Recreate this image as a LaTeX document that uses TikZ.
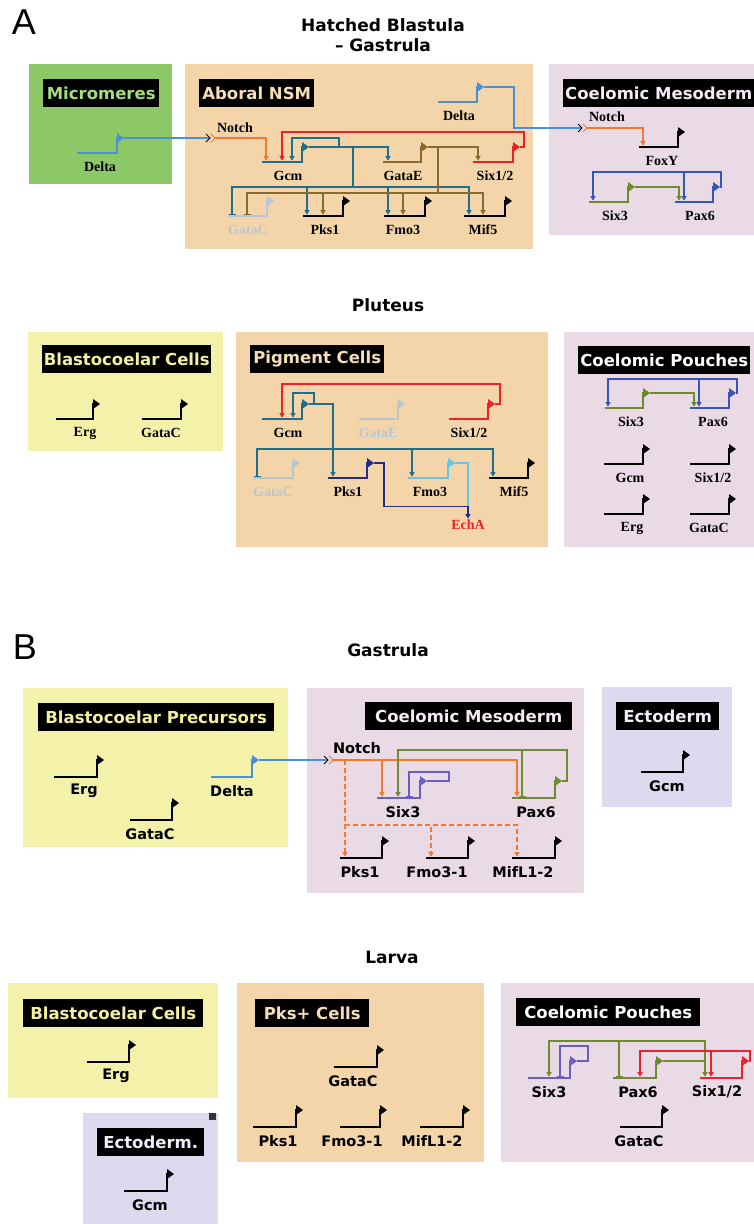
\documentclass[tikz,border=0pt]{standalone}
\usepackage{fontspec}
\setmainfont{Liberation Serif}
\setsansfont{DejaVu Sans}
\newfontfamily\panelfont{Liberation Sans}
\usetikzlibrary{arrows.meta}

\definecolor{greenbox}{HTML}{8CC866}
\definecolor{micgreen}{HTML}{A4DE7E}
\definecolor{tanbox}{HTML}{F4D5A9}
\definecolor{tantext}{HTML}{F6DEB6}
\definecolor{pinkbox}{HTML}{E9DAE6}
\definecolor{pinktext}{HTML}{F5ECF3}
\definecolor{yelbox}{HTML}{F3F1AA}
\definecolor{yeltext}{HTML}{F3F0A0}
\definecolor{lavbox}{HTML}{DCDAEE}
\definecolor{lavtext}{HTML}{EFEEF8}
\definecolor{tealc}{HTML}{1F6E8C}
\definecolor{brownc}{HTML}{8A6A2E}
\definecolor{redc}{HTML}{EC2228}
\definecolor{deltablue}{HTML}{4A90D4}
\definecolor{orangec}{HTML}{F27A30}
\definecolor{greyc}{HTML}{B8C6D4}
\definecolor{navyc}{HTML}{232E8C}
\definecolor{cyanc}{HTML}{5CC8EE}
\definecolor{olivec}{HTML}{6E8B30}
\definecolor{paxblue}{HTML}{3A55B8}
\definecolor{purplec}{HTML}{6A5EC4}

\tikzset{
  conn/.style={line width=1.1pt},
  link/.style={conn, -{Triangle[length=4.5pt,width=5pt]}, shorten >=1.3pt},
  block/.style={conn, -{Bar[width=7pt]}, shorten >=1.3pt},
  genebody/.style={line width=2.6pt},
  labA/.style={font=\fontsize{14}{15}\selectfont\bfseries, inner sep=0pt},
  labB/.style={font=\fontsize{14.5}{15}\selectfont\sffamily\bfseries, inner sep=0pt},
  genelab/.style={labA},
  tag/.style={fill=black, anchor=north west, inner sep=0pt, minimum height=28pt,
    font=\fontsize{16.5}{18}\selectfont\sffamily\bfseries},
  title/.style={font=\fontsize{17}{20}\selectfont\sffamily\bfseries, align=center},
  panel/.style={font=\panelfont\fontsize{36}{36}\selectfont},
  receptor/.pic={
    \draw[line width=1pt] (-7,-4) -- (-3,0) -- (-7,4);
    \draw[line width=1pt,orangec] (-2,-4) -- (2,0) -- (-2,4);
  }
}

% gene: name, left x, right x, y, colour, label, label colour, label x
\def\geneh{15}
\newcommand\gene[8]{%
  \coordinate (#1-l) at (#2,#4);
  \coordinate (#1-r) at (#3,#4);
  \coordinate (#1-t) at (#3+7,#4-\geneh);
  \draw[genebody,#5] (#1-l) -- (#1-r) -- ++(0,-\geneh) -- ++(2,0);
  \fill[#5] (#3,#4-\geneh-5) -- (#1-t) -- (#3,#4-\geneh+5) -- cycle;
  \node[genelab,text=#7] (#1-lab) at (#8,#4+14) {#6};
}

\begin{document}
\begin{tikzpicture}[x=1pt,y=-1pt]
    \useasboundingbox (0,0) rectangle (754,1224);

    % Panel A: hatched blastula - gastrula
    \node[panel] (panelA) at (24,22) {A};
    \node[title] (stageHB) at (383,35) {Hatched Blastula\\– Gastrula};
    \fill[greenbox] (29,64) rectangle (172,184);
    \fill[tanbox] (185,64) rectangle (533,249);
    \fill[pinkbox] (549,64) rectangle (754,235);
    \node[tag,minimum width=116pt,text=micgreen] (micTag) at (43,79) {Micromeres};
    \node[tag,minimum width=115pt,text=tantext] (nsmTag) at (199,79) {Aboral NSM};
    \node[tag,minimum width=191pt,text=pinktext] (cmATag) at (563,79) {Coelomic Mesoderm};

    \gene{dlMic}{77}{117}{153}{deltablue}{Delta}{black}{100}
    \gene{dlA}{438}{477}{102}{deltablue}{Delta}{black}{459}
    \gene{gcmA}{262}{302}{162}{tealc}{Gcm}{black}{288}
    \gene{gataeA}{383}{421}{162}{brownc}{GataE}{black}{403}
    \gene{sixA}{473}{513}{162}{redc}{Six1/2}{black}{495}
    \gene{gatacA}{228}{267}{216}{greyc}{GataC}{greyc}{248}
    \gene{pksA}{303}{343}{216}{black}{Pks1}{black}{325}
    \gene{fmoA}{384}{425}{216}{black}{Fmo3}{black}{403}
    \gene{mifA}{464}{505}{216}{black}{Mif5}{black}{483}
    \gene{foxy}{639}{678}{147}{black}{FoxY}{black}{662}
    \gene{sixthreeA}{589}{628}{202}{olivec}{Six3}{black}{615}
    \gene{paxA}{675}{713}{202}{paxblue}{Pax6}{black}{700}

    % Delta-Notch
    \coordinate (notchA) at (213,138);
    \coordinate (notchC) at (585,128);
    \draw[conn,deltablue] (dlMic-t) -- ([xshift=-3pt]notchA);
    \draw[conn,deltablue] (dlA-t) -- ++(30,0) |- ([xshift=-3pt]notchC);
    \pic at (notchA) {receptor};
    \pic at (notchC) {receptor};
    \node[labA] (notchAlab) at (235,128) {Notch};
    \node[labA] (notchClab) at (607,117) {Notch};
    \draw[link,orangec] ([xshift=2pt]notchA) -| ([xshift=4pt]gcmA-l);
    \draw[link,orangec] ([xshift=2pt]notchC) -| ([xshift=4pt]foxy-l);

    % Gcm
    \coordinate (gcmAbus) at (353,187);
    \draw[link,tealc] (gcmA-t) -- ++(30,0) -- ++(0,-9) -| ([xshift=30pt]gcmA-l);
    \draw[link,tealc] (gcmA-t) -| ([xshift=5pt]gataeA-l);
    \draw[conn,tealc] (gcmA-t) -| (gcmAbus);
    \draw[block,tealc] (gcmAbus) -| ([xshift=4pt]gatacA-l);
    \draw[link,tealc] (gcmAbus) -| ([xshift=4pt]pksA-l);
    \draw[link,tealc] (gcmAbus) -| ([xshift=4pt]fmoA-l);
    \draw[link,tealc] (gcmAbus) -| ([xshift=5pt]mifA-l);

    % GataE
    \coordinate (gataeAbus) at (438,193);
    \draw[link,brownc] (gataeA-t) -| ([xshift=5pt]sixA-l);
    \draw[conn,brownc] (gataeA-t) -| (gataeAbus);
    \draw[block,brownc] (gataeAbus) -| ([xshift=19pt]gatacA-l);
    \draw[link,brownc] (gataeAbus) -| ([xshift=20pt]pksA-l);
    \draw[link,brownc] (gataeAbus) -| ([xshift=19pt]fmoA-l);
    \draw[link,brownc] (gataeAbus) -| ([xshift=19pt]mifA-l);

    % Six1/2
    \draw[link,redc] (sixA-t) -- ++(4,0) |- ([xshift=20pt,yshift=30pt]gcmA-l) -- ([xshift=20pt]gcmA-l);

    % Six3 / Pax6
    \draw[link,olivec] (sixthreeA-t) -| ([xshift=4pt]paxA-l);
    \draw[link,paxblue] (paxA-t) -- ++(1,0) |- ([xshift=4pt,yshift=30pt]sixthreeA-l) -- ([xshift=4pt]sixthreeA-l);
    \draw[link,paxblue] ([xshift=9pt,yshift=30pt]paxA-l) -- ([xshift=9pt]paxA-l);

    % Pluteus
    \node[title] (stagePl) at (388,305) {Pluteus};
    \fill[yelbox] (28,332) rectangle (223,451);
    \fill[tanbox] (236,332) rectangle (548,547);
    \fill[pinkbox] (564,332) rectangle (754,547);
    \node[tag,minimum width=169pt,text=yeltext] (bcTag) at (42,345) {Blastocoelar Cells};
    \node[tag,minimum width=134pt,text=tantext] (pigTag) at (250,345) {Pigment Cells};
    \node[tag,minimum width=172pt,text=white] (cpATag) at (578,346) {Coelomic Pouches};

    \gene{ergP}{56}{93}{419}{black}{Erg}{black}{85}
    \gene{gatacP}{142}{181}{419}{black}{GataC}{black}{161}
    \gene{gcmP}{262}{302}{419}{tealc}{Gcm}{black}{288}
    \gene{gataeP}{359}{398}{419}{greyc}{GataE}{greyc}{378}
    \gene{sixP}{449}{488}{419}{redc}{Six1/2}{black}{469}
    \gene{gatacPg}{253}{293}{478}{greyc}{GataC}{greyc}{273}
    \gene{pksP}{328}{367}{478}{navyc}{Pks1}{black}{348}
    \gene{fmoP}{408}{448}{478}{cyanc}{Fmo3}{black}{430}
    \gene{mifP}{489}{528}{478}{black}{Mif5}{black}{514}
    \node[labA,text=redc] (echa) at (468,525) {EchA};
    \gene{sixthreeP}{605}{643}{408}{olivec}{Six3}{black}{631}
    \gene{paxP}{690}{729}{408}{paxblue}{Pax6}{black}{713}
    \gene{gcmCP}{604}{643}{464}{black}{Gcm}{black}{630}
    \gene{sixCP}{690}{729}{464}{black}{Six1/2}{black}{713}
    \gene{ergCP}{604}{643}{514}{black}{Erg}{black}{632}
    \gene{gatacCP}{690}{729}{514}{black}{GataC}{black}{709}

    \coordinate (gcmPbus) at (333,449);
    \draw[link,redc] (sixP-t) -- ++(5,0) |- ([xshift=20pt,yshift=35pt]gcmP-l) -- ([xshift=20pt]gcmP-l);
    \draw[link,tealc] (gcmP-t) -- ++(5,0) -- ++(0,-11) -| ([xshift=31pt]gcmP-l);
    \draw[link,tealc] (gcmP-t) -| ([xshift=5pt]pksP-l);
    \draw[block,tealc] (gcmPbus) -| ([xshift=4pt]gatacPg-l);
    \draw[link,tealc] (gcmPbus) -| ([xshift=4pt]fmoP-l);
    \draw[link,tealc] (gcmPbus) -| ([xshift=4pt]mifP-l);
    \draw[conn,cyanc] (fmoP-t) -| ([yshift=13pt]echa.north);
    \draw[link,navyc] (pksP-t) -- ++(10,0) |- ([yshift=13pt]echa.north) -- (echa.north);

    \draw[link,olivec] (sixthreeP-t) -| ([xshift=4pt]paxP-l);
    \draw[link,paxblue] (paxP-t) -- ++(1,0) |- ([xshift=3pt,yshift=29pt]sixthreeP-l) -- ([xshift=3pt]sixthreeP-l);
    \draw[link,paxblue] ([xshift=9pt,yshift=29pt]paxP-l) -- ([xshift=9pt]paxP-l);

    % Panel B: gastrula
    \tikzset{genelab/.style={labB}}
    \def\geneh{17}
    \node[panel] (panelB) at (25,647) {B};
    \node[title] (stageGa) at (388,650) {Gastrula};
    \fill[yelbox] (23,688) rectangle (288,847);
    \fill[pinkbox] (307,688) rectangle (584,893);
    \fill[lavbox] (602,687) rectangle (732,807);
    \node[tag,minimum width=236pt,text=yeltext] (bpTag) at (38,703) {Blastocoelar Precursors};
    \node[tag,minimum width=207pt,text=pinktext] (cmBTag) at (365,702) {Coelomic Mesoderm};
    \node[tag,minimum width=103pt,text=lavtext] (ectTag) at (616,702) {Ectoderm};

    \gene{ergG}{54}{97}{777}{black}{Erg}{black}{84}
    \gene{gatacG}{130}{172}{820}{black}{GataC}{black}{150}
    \gene{dlG}{211}{252}{777}{deltablue}{Delta}{black}{232}
    \gene{sixthreeG}{377}{420}{798}{purplec}{Six3}{black}{403}
    \gene{paxG}{512}{555}{798}{olivec}{Pax6}{black}{536}
    \gene{pksG}{340}{382}{858}{black}{Pks1}{black}{360}
    \gene{fmoG}{426}{468}{858}{black}{Fmo3-1}{black}{437}
    \gene{mifG}{512}{555}{858}{black}{MifL1-2}{black}{523}
    \gene{gcmE}{641}{683}{772}{black}{Gcm}{black}{667}

    \coordinate (notchG) at (331,760);
    \coordinate (notchGbus) at (345,825);
    \draw[conn,deltablue] (dlG-t) -- ([xshift=-3pt]notchG);
    \pic at (notchG) {receptor};
    \node[labB] (notchGlab) at (357,748) {Notch};
    \draw[link,orangec] ([xshift=2pt]notchG) -| ([xshift=5pt]sixthreeG-l);
    \draw[link,orangec] ([xshift=2pt]notchG) -| ([xshift=5pt]paxG-l);
    \draw[link,orangec,dash pattern=on 5pt off 3pt] ([xshift=14pt]notchG) -| ([xshift=5pt]pksG-l);
    \draw[link,orangec,dash pattern=on 5pt off 3pt] (notchGbus) -| ([xshift=5pt]fmoG-l);
    \draw[link,orangec,dash pattern=on 5pt off 3pt] (notchGbus) -| ([xshift=5pt]mifG-l);
    \draw[block,purplec] (sixthreeG-t) -- ++(22,0) -- ++(0,-9) -| ([xshift=32pt]sixthreeG-l);
    \draw[link,olivec] (paxG-t) -- ++(5,0) |- ([xshift=21pt,yshift=48pt]sixthreeG-l) -- ([xshift=21pt]sixthreeG-l);
    \draw[block,olivec] ([xshift=10pt,yshift=48pt]paxG-l) -- ([xshift=10pt]paxG-l);

    % Larva
    \node[title] (stageLa) at (392,957) {Larva};
    \fill[yelbox] (8,983) rectangle (218,1098);
    \fill[lavbox] (83,1113) rectangle (218,1224);
    \fill[tanbox] (237,983) rectangle (484,1162);
    \fill[pinkbox] (501,983) rectangle (754,1162);
    \fill[black!80] (209,1113) rectangle (216,1120);
    \node[tag,minimum width=180pt,text=yeltext] (bcLTag) at (23,999) {Blastocoelar Cells};
    \node[tag,minimum width=107pt,text=lavtext] (ectLTag) at (97,1128) {Ectoderm.};
    \node[tag,minimum width=114pt,text=tantext] (pksTag) at (255,999) {Pks+ Cells};
    \node[tag,minimum width=184pt,text=white] (cpBTag) at (516,998) {Coelomic Pouches};

    \gene{ergL}{87}{129}{1062}{black}{Erg}{black}{116}
    \gene{gcmL}{124}{167}{1191}{black}{Gcm}{black}{150}
    \gene{gatacL}{334}{377}{1067}{black}{GataC}{black}{353}
    \gene{pksL}{253}{296}{1127}{black}{Pks1}{black}{278}
    \gene{fmoL}{340}{380}{1127}{black}{Fmo3-1}{black}{352}
    \gene{mifL}{420}{463}{1127}{black}{MifL1-2}{black}{432}
    \gene{sixthreeL}{528}{570}{1078}{purplec}{Six3}{black}{549}
    \gene{paxL}{613}{656}{1078}{olivec}{Pax6}{black}{638}
    \gene{sixL}{700}{742}{1078}{redc}{Six1/2}{black}{717}
    \gene{gatacLc}{620}{662}{1127}{black}{GataC}{black}{639}

    \draw[block,purplec] (sixthreeL-t) -- ++(11,0) -- ++(0,-15) -| ([xshift=32pt]sixthreeL-l);
    \draw[link,olivec] (paxL-t) -| ([xshift=5pt]sixL-l);
    \draw[link,olivec] ([xshift=5pt,yshift=17pt]sixL-l) -- ([xshift=5pt,yshift=37pt]sixL-l) -| ([xshift=21pt]sixthreeL-l);
    \draw[block,olivec] ([xshift=6pt,yshift=37pt]paxL-l) -- ([xshift=6pt]paxL-l);
    \draw[link,redc] (sixL-t) -- ++(1,0) |- ([xshift=27pt,yshift=27pt]paxL-l) -- ([xshift=27pt]paxL-l);
    \draw[link,redc] ([xshift=11pt,yshift=27pt]sixL-l) -- ([xshift=11pt]sixL-l);
\end{tikzpicture}
\end{document}
